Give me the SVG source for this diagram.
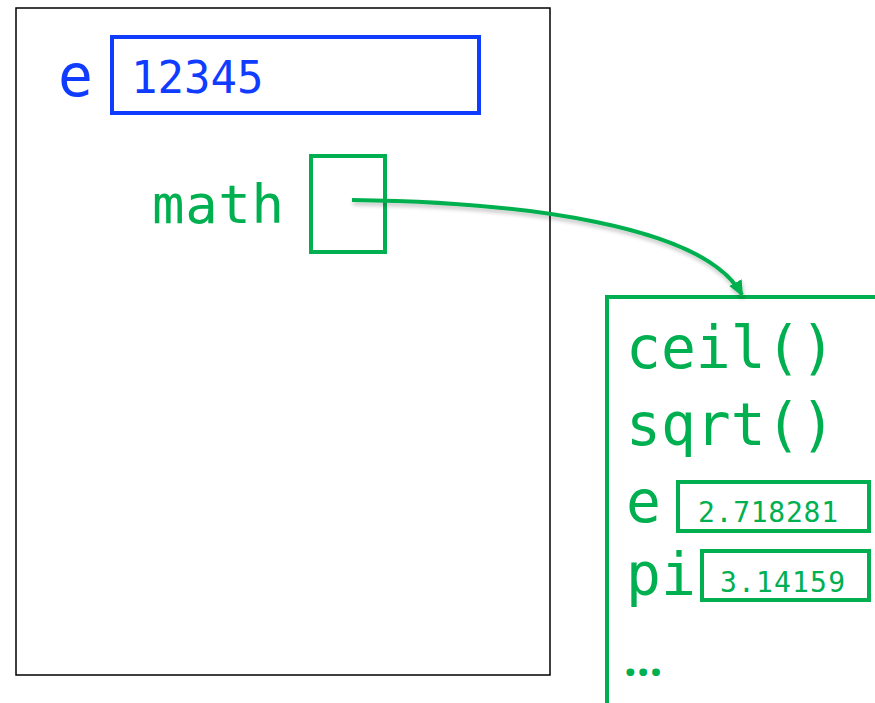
<svg xmlns="http://www.w3.org/2000/svg" width="875" height="703" viewBox="0 0 875 703">
<defs>
<style>
.mono{font-family:"DejaVu Sans Mono","Liberation Mono",monospace;}
.g{fill:#00B050;}
.b{fill:#0F3CFF;}
.gbox{fill:none;stroke:#00B050;stroke-width:4;}
</style>
<marker id="ah" markerWidth="16" markerHeight="16" refX="14" refY="8" orient="auto" markerUnits="userSpaceOnUse" viewBox="0 0 16 16">
<path d="M0,1 L16,8 L0,15 z" fill="#00B050"/>
</marker>
<filter id="sh" x="-10%" y="-10%" width="120%" height="130%">
<feGaussianBlur in="SourceAlpha" stdDeviation="2"/>
<feOffset dx="1" dy="3"/>
<feComponentTransfer><feFuncA type="linear" slope="0.25"/></feComponentTransfer>
<feMerge><feMergeNode/><feMergeNode in="SourceGraphic"/></feMerge>
</filter>
</defs>
<rect width="875" height="703" fill="#fff"/>
<g id="frame">
<rect x="16" y="8" width="534" height="667" fill="none" stroke="#000" stroke-width="1.5"/>
</g>
<g id="var-e">
<text class="mono b" x="58" y="96" font-size="58">e</text>
<rect x="112" y="37" width="367" height="76" fill="none" stroke="#0F3CFF" stroke-width="4"/>
<text class="mono b" x="131" y="93" font-size="44">12345</text>
</g>
<g id="var-math">
<text class="mono g" x="152" y="223" font-size="54" textLength="132">math</text>
<rect class="gbox" x="311" y="156" width="74" height="96"/>
</g>
<g id="module-math">
<rect class="gbox" x="607" y="297" width="300" height="450"/>
<text class="mono g" x="626" y="368" font-size="58">ceil()</text>
<text class="mono g" x="626" y="445" font-size="58">sqrt()</text>
<text class="mono g" x="626" y="522" font-size="58">e</text>
<rect class="gbox" x="678" y="482" width="191" height="49"/>
<text class="mono g" x="698" y="522" font-size="28" textLength="140">2.718281</text>
<text class="mono g" x="626" y="595" font-size="58">pi</text>
<rect class="gbox" x="702" y="551" width="167" height="49"/>
<text class="mono g" x="720" y="592" font-size="28" textLength="125">3.14159</text>
<text class="g" x="624" y="676" font-size="45" font-family="Noto Sans, sans-serif" font-weight="bold">…</text>
</g>
<g id="connectors">
<path d="M352,200 C520,202 705,225 742,295" fill="none" stroke="#00B050" stroke-width="4" marker-end="url(#ah)" filter="url(#sh)"/>
</g>
</svg>
